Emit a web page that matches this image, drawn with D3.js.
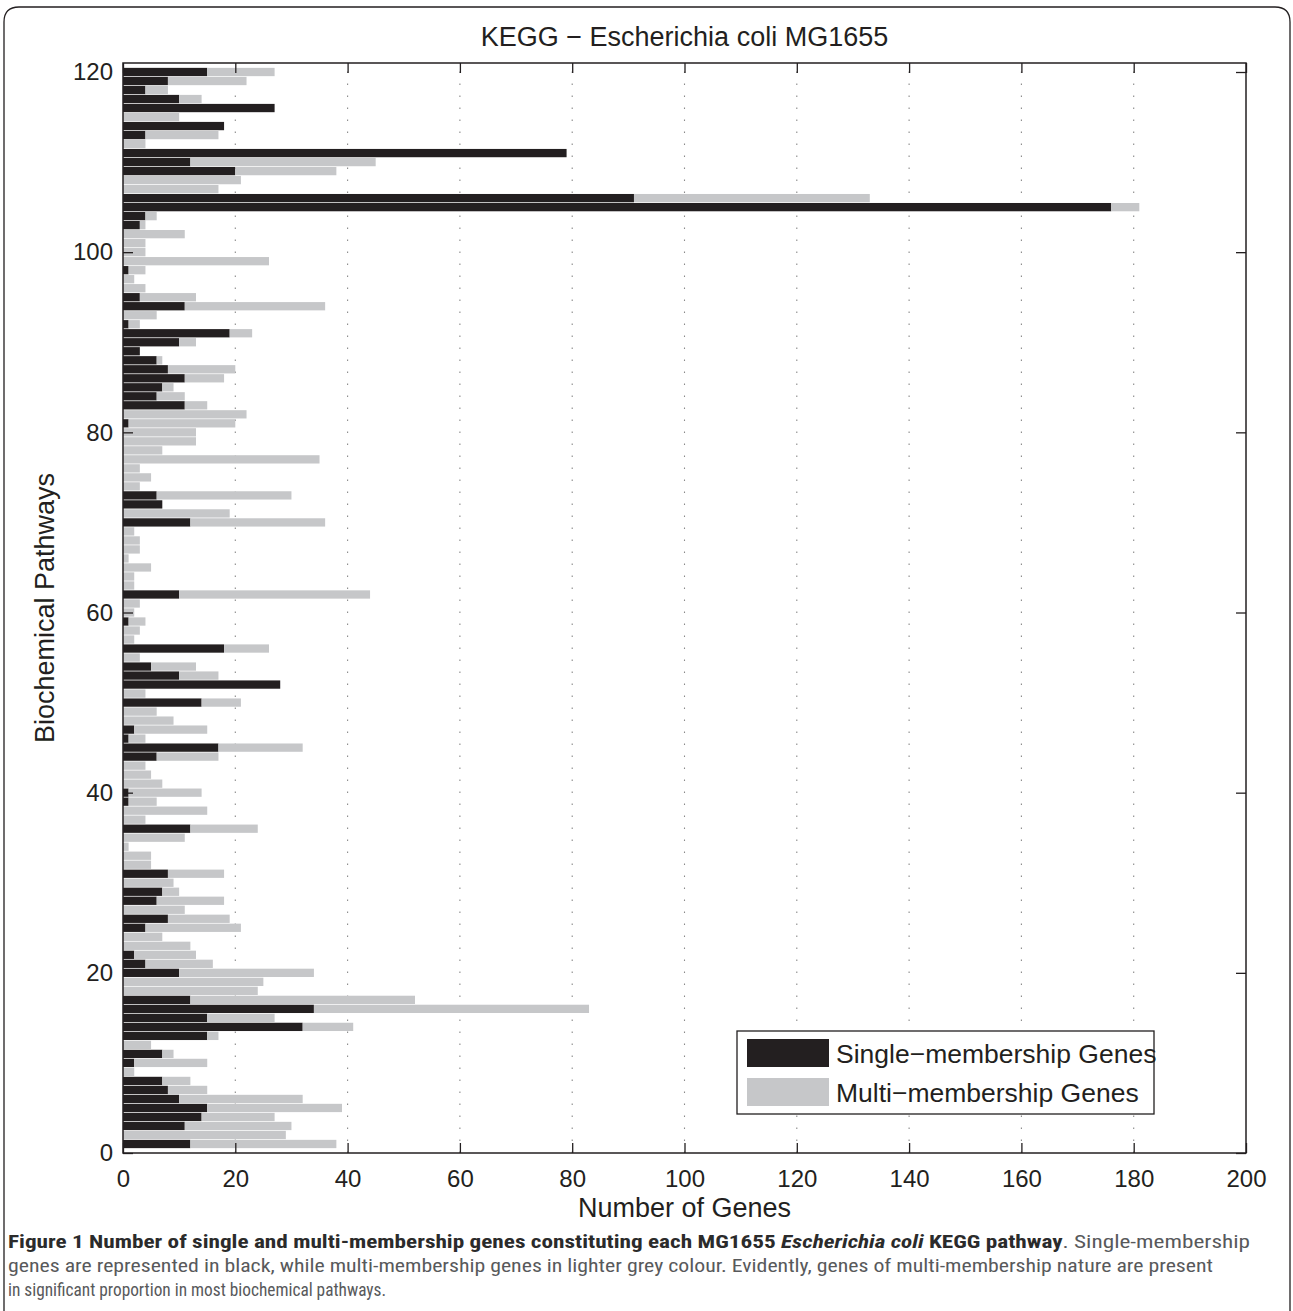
<!DOCTYPE html>
<html>
<head>
<meta charset="utf-8">
<script src="https://cdn.jsdelivr.net/npm/d3@7"></script>
<style>
  body { margin: 0; background: #fff; }
  svg { display: block; }
</style>
</head>
<body>
<svg id="chart" width="1293" height="1311"></svg>
<script>
// Gene counts per KEGG pathway of E. coli MG1655 (pathway 1 .. 120)
const pathways = d3.range(1, 121);
const singleGenes = [
  12, 0, 11, 14, 15, 10, 8, 7, 0, 2,
  7, 0, 15, 32, 15, 34, 12, 0, 0, 10,
  4, 2, 0, 0, 4, 8, 0, 6, 7, 0,
  8, 0, 0, 0, 0, 12, 0, 0, 1, 1,
  0, 0, 0, 6, 17, 1, 2, 0, 0, 14,
  0, 28, 10, 5, 0, 18, 0, 0, 1, 0,
  0, 10, 0, 0, 0, 0, 0, 0, 0, 12,
  0, 7, 6, 0, 0, 0, 0, 0, 0, 0,
  1, 0, 11, 6, 7, 11, 8, 6, 3, 10,
  19, 1, 0, 11, 3, 0, 0, 1, 0, 0,
  0, 0, 3, 4, 176, 91, 0, 0, 20, 12,
  79, 0, 4, 18, 0, 27, 10, 4, 8, 15
];
const multiGenes = [
  26, 29, 19, 13, 24, 22, 7, 5, 2, 13,
  2, 5, 2, 9, 12, 49, 40, 24, 25, 24,
  12, 11, 12, 7, 17, 11, 11, 12, 3, 9,
  10, 5, 5, 1, 11, 12, 4, 15, 5, 13,
  7, 5, 4, 11, 15, 3, 13, 9, 6, 7,
  4, 0, 7, 8, 3, 8, 2, 3, 3, 2,
  3, 34, 2, 2, 5, 1, 3, 3, 2, 24,
  19, 0, 24, 3, 5, 3, 35, 7, 13, 13,
  19, 22, 4, 5, 2, 7, 12, 1, 0, 3,
  4, 2, 6, 25, 10, 4, 2, 3, 26, 4,
  4, 11, 1, 2, 5, 42, 17, 21, 18, 33,
  0, 4, 13, 0, 10, 0, 4, 4, 14, 12
];
const seriesKeys = ["single", "multi"];
const seriesNames = ["Single\u2212membership Genes", "Multi\u2212membership Genes"];
const seriesColors = ["#231f20", "#c6c7c9"];
const xTicks = [0, 20, 40, 60, 80, 100, 120, 140, 160, 180, 200];
const yTicks = [0, 20, 40, 60, 80, 100, 120];

const rows = pathways.map((p, i) => ({ pathway: p, single: singleGenes[i], multi: multiGenes[i] }));

const svg = d3.select("#chart");
const ink = "#231f20";
const font = "'Liberation Sans', Arial, Helvetica, sans-serif";

// outer figure frame with rounded top corners
svg.append("path")
  .attr("d", "M4,1320 L4,22 Q4,7 19,7 L1275,7 Q1290,7 1290,22 L1290,1320")
  .attr("fill", "none").attr("stroke", ink).attr("stroke-width", 1.3);

const plot = { left: 123, right: 1246, top: 63, bottom: 1153 };
const x = d3.scaleLinear().domain([0, 200]).range([plot.left, plot.right]);
const y = d3.scaleLinear().domain([0, 121]).range([plot.bottom, plot.top]);
const color = d3.scaleOrdinal().domain(seriesKeys).range(seriesColors);

// dotted vertical grid
svg.append("g").selectAll("line")
  .data(xTicks.filter(t => t > 0 && t < 200))
  .join("line")
  .attr("x1", d => x(d)).attr("x2", d => x(d))
  .attr("y1", plot.bottom).attr("y2", plot.top)
  .attr("stroke", "#8a8a8a").attr("stroke-width", 1.1)
  .attr("stroke-dasharray", "1.5,10.5");

// stacked horizontal bars
const stacked = d3.stack().keys(seriesKeys)(rows);
const barH = (y(0) - y(1)) * 0.92;
svg.append("g").selectAll("g")
  .data(stacked)
  .join("g")
  .attr("fill", d => color(d.key))
  .selectAll("rect")
  .data(d => d)
  .join("rect")
  .attr("x", d => x(d[0]))
  .attr("width", d => Math.max(0, x(d[1]) - x(d[0])))
  .attr("y", d => y(d.data.pathway) - barH / 2)
  .attr("height", barH);

// axes with inward ticks on all four sides
function styleAxis(g) {
  g.select(".domain").remove();
  g.selectAll(".tick line").attr("stroke", ink).attr("stroke-width", 1.3);
  g.selectAll(".tick text").attr("fill", ink).attr("font-family", font).attr("font-size", 24);
}
svg.append("g").attr("transform", `translate(0,${plot.bottom})`)
  .call(d3.axisBottom(x).tickValues(xTicks).tickSizeInner(-10).tickSizeOuter(0).tickPadding(17))
  .call(styleAxis);
svg.append("g").attr("transform", `translate(0,${plot.top})`)
  .call(d3.axisTop(x).tickValues(xTicks).tickSizeInner(-10).tickSizeOuter(0).tickFormat(""))
  .call(styleAxis);
svg.append("g").attr("transform", `translate(${plot.left},0)`)
  .call(d3.axisLeft(y).tickValues(yTicks).tickSizeInner(-10).tickSizeOuter(0).tickPadding(10))
  .call(styleAxis);
svg.append("g").attr("transform", `translate(${plot.right},0)`)
  .call(d3.axisRight(y).tickValues(yTicks).tickSizeInner(-10).tickSizeOuter(0).tickFormat(""))
  .call(styleAxis);

// plot box
svg.append("rect")
  .attr("x", plot.left).attr("y", plot.top)
  .attr("width", plot.right - plot.left).attr("height", plot.bottom - plot.top)
  .attr("fill", "none").attr("stroke", ink).attr("stroke-width", 1.5);

// titles
svg.append("text")
  .attr("x", (plot.left + plot.right) / 2).attr("y", 46)
  .attr("text-anchor", "middle").attr("font-family", font).attr("font-size", 27).attr("fill", ink)
  .text("KEGG \u2212 Escherichia coli MG1655");
svg.append("text")
  .attr("x", (plot.left + plot.right) / 2).attr("y", 1217)
  .attr("text-anchor", "middle").attr("font-family", font).attr("font-size", 27).attr("fill", ink)
  .text("Number of Genes");
svg.append("text")
  .attr("transform", `translate(54,${(plot.top + plot.bottom) / 2}) rotate(-90)`)
  .attr("text-anchor", "middle").attr("font-family", font).attr("font-size", 27).attr("fill", ink)
  .text("Biochemical Pathways");

// legend
const legend = svg.append("g");
legend.append("rect")
  .attr("x", 737).attr("y", 1031).attr("width", 417).attr("height", 83)
  .attr("fill", "#fff").attr("stroke", ink).attr("stroke-width", 1.3);
const items = legend.selectAll("g.item")
  .data(seriesKeys)
  .join("g").attr("class", "item")
  .attr("transform", (d, i) => `translate(747,${1039 + i * 39})`);
items.append("rect")
  .attr("width", 82).attr("height", 28)
  .attr("fill", d => color(d));
items.append("text")
  .attr("x", 89).attr("y", 24)
  .attr("font-family", font).attr("font-size", 26.5).attr("fill", ink)
  .text((d, i) => seriesNames[i]);

// figure caption
const capFont = "'Liberation Sans Narrow', 'Roboto Condensed', 'Liberation Sans', sans-serif";
const cap1 = svg.append("text")
  .attr("x", 8).attr("y", 1248)
  .attr("font-family", capFont).attr("font-size", 19)
  .attr("textLength", 1242).attr("lengthAdjust", "spacingAndGlyphs");
cap1.append("tspan").attr("font-weight", "bold").attr("fill", "#2b2b2b")
  .text("Figure 1 Number of single and multi-membership genes constituting each MG1655 ");
cap1.append("tspan").attr("font-weight", "bold").attr("font-style", "italic").attr("fill", "#2b2b2b")
  .text("Escherichia coli");
cap1.append("tspan").attr("font-weight", "bold").attr("fill", "#2b2b2b")
  .text(" KEGG pathway");
cap1.append("tspan").attr("fill", "#58595b")
  .text(". Single-membership");
svg.append("text")
  .attr("x", 8).attr("y", 1272)
  .attr("font-family", capFont).attr("font-size", 19).attr("fill", "#58595b")
  .attr("textLength", 1205).attr("lengthAdjust", "spacingAndGlyphs")
  .text("genes are represented in black, while multi-membership genes in lighter grey colour. Evidently, genes of multi-membership nature are present");
svg.append("text")
  .attr("x", 8).attr("y", 1296)
  .attr("font-family", capFont).attr("font-size", 19).attr("fill", "#58595b")
  .attr("textLength", 378).attr("lengthAdjust", "spacingAndGlyphs")
  .text("in significant proportion in most biochemical pathways.");
</script>
</body>
</html>
